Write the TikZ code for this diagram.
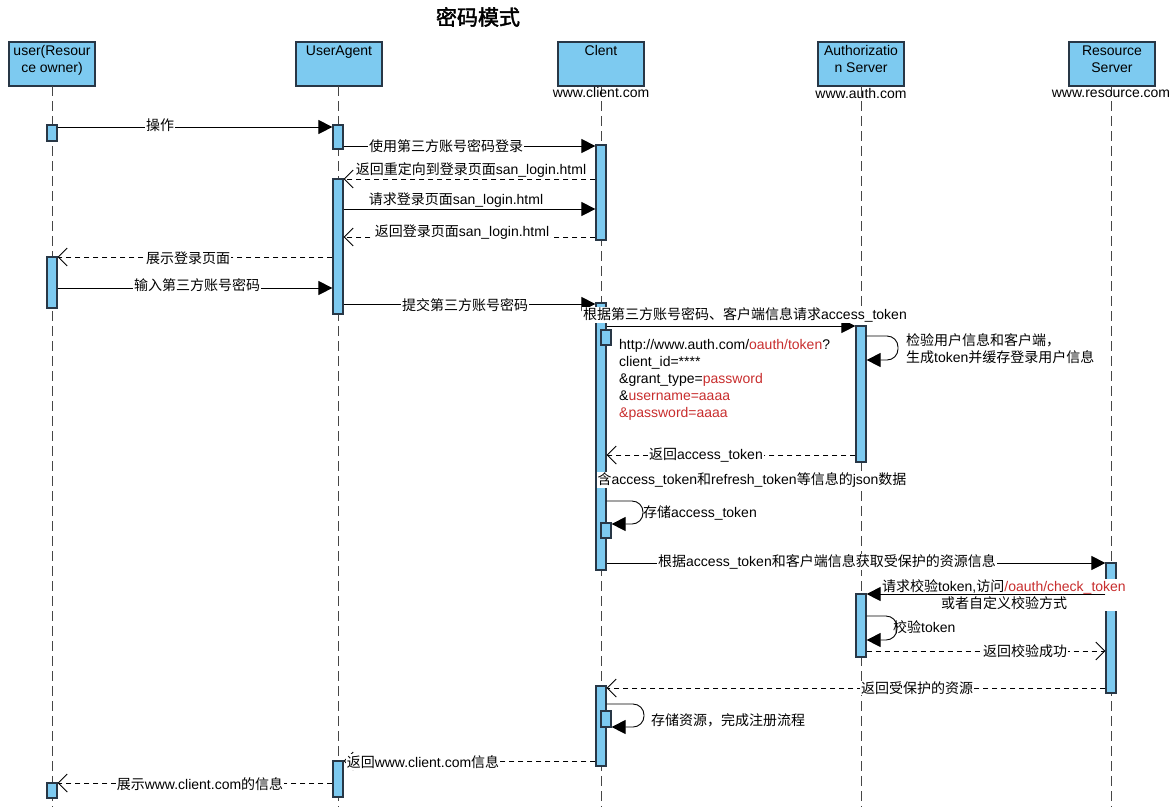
\documentclass[tikz,border=0pt]{standalone}
\usepackage{fontspec}
\setmainfont{Liberation Sans}
\newfontfamily\cjk[AutoFakeBold=2]{Noto Sans CJK SC}
\newcommand\zh[1]{{\cjk #1}}
\usetikzlibrary{arrows.meta}
\definecolor{barfill}{RGB}{125,202,240}
\definecolor{barline}{RGB}{40,55,70}
\definecolor{lifec}{RGB}{70,70,70}
\definecolor{redt}{RGB}{200,45,45}
\newcommand\rd[1]{\textcolor{redt}{#1}}
\tikzset{
  life/.style={draw=lifec, line width=1pt, dash pattern=on 10pt off 5pt},
  head/.style={draw=barline, fill=barfill, line width=1.2pt, minimum width=86pt, minimum height=44pt, inner sep=0pt},
  htext/.style={anchor=north, align=center, inner sep=1pt, yshift=-3pt, font=\fontsize{14}{17}\selectfont},
  bar/.style={draw=barline, fill=barfill, line width=1.2pt, minimum width=10pt, inner sep=0pt},
  msg/.style={draw=black, line width=0.9pt, -{Triangle[length=14pt,width=14pt]}},
  ret/.style={draw=black, line width=0.9pt, dash pattern=on 5pt off 4pt, -{Straight Barb[length=9pt,width=18pt]}},
  lab/.style={fill=white, inner sep=1pt, font=\fontsize{14}{17}\selectfont},
  txt/.style={inner sep=0pt, font=\fontsize{14}{17}\selectfont}
}
\begin{document}
\begin{tikzpicture}[x=1pt,y=-1pt]
\useasboundingbox (0,0) rectangle (1173,807);
% title
\node[inner sep=0pt] (title) at (478,17) {\cjk\bfseries\fontsize{21}{24}\selectfont 密码模式};
% headers
\node[head] (hu) at (52,64) {};
\node[head] (ha) at (339,64) {};
\node[head] (hc) at (601,64) {};
\node[head] (hs) at (861,64) {};
\node[head] (hr) at (1112,64) {};
\node[htext] (hut) at (hu.north) {user(Resour\\ce owner)};
\node[htext] (hat) at (ha.north) {UserAgent};
\node[htext] (hct) at (hc.north) {Clent};
\node[htext] (hst) at (hs.north) {Authorizatio\\n Server};
\node[htext] (hrt) at (hr.north) {Resource\\Server};
% lifelines
\draw[life] (52,86) -- (52,807);
\draw[life] (338,86) -- (338,807);
\draw[life] (601,86) -- (601,807);
\draw[life] (861,86) -- (861,807);
\draw[life] (1111,86) -- (1111,807);
\node[txt] (dc) at (601,92) {www.client.com};
\node[txt] (ds) at (861,93) {www.auth.com};
\node[txt] (dr) at (1111,94) {www.resource.com};
% activation bars
\node[bar, minimum height=16pt] (u1) at (52,133) {};
\node[bar, minimum height=51pt] (u2) at (52,282.5) {};
\node[bar, minimum height=15pt] (u3) at (52,790.5) {};
\node[bar, minimum height=24pt] (a1) at (338,137) {};
\node[bar, minimum height=135pt] (a2) at (338,246.5) {};
\node[bar, minimum height=36pt] (a3) at (338,779) {};
\node[bar, minimum height=95pt] (c1) at (601,192.5) {};
\node[bar, minimum height=267pt] (c2) at (601,436.5) {};
\node[bar, minimum height=15pt] (c2s) at (606,337.5) {};
\node[bar, minimum height=15pt] (c3s) at (606,530.5) {};
\node[bar, minimum height=80pt] (c3) at (601,726) {};
\node[bar, minimum height=16pt] (c4s) at (606,719) {};
\node[bar, minimum height=136pt] (s1) at (861,394) {};
\node[bar, minimum height=63pt] (s2) at (861,625.5) {};
\node[bar, minimum height=130pt] (r1) at (1111,628) {};
% messages
\draw[msg] (u1.east |- 0,127) -- (a1.west |- 0,127);
\node[lab] (l1) at (160,125) {\zh{操作}};
\draw[msg] (a1.east |- 0,146) -- (c1.west |- 0,146);
\node[lab] (l2) at (446,146) {\zh{使用第三方账号密码登录}};
\draw[ret] (c1.west |- 0,179) -- (a2.east |- 0,179);
\node[lab] (l3) at (471,170) {\zh{返回重定向到登录页面}san\_login.html};
\draw[msg] (a2.east |- 0,209) -- (c1.west |- 0,209);
\node[txt] (l4) at (456,200) {\zh{请求登录页面}san\_login.html};
\draw[ret] (c1.west |- 0,237) -- (a2.east |- 0,237);
\node[lab] (l5) at (462,232) {\zh{返回登录页面}san\_login.html};
\draw[ret] (a2.west |- 0,257) -- (u2.east |- 0,257);
\node[lab] (l6) at (188,258) {\zh{展示登录页面}};
\draw[msg] (u2.east |- 0,288) -- (a2.west |- 0,288);
\node[lab] (l7) at (197,285) {\zh{输入第三方账号密码}};
\draw[msg] (a2.east |- 0,304) -- (c2.west |- 0,304);
\node[lab] (l8) at (465,305) {\zh{提交第三方账号密码}};
\draw[msg] (c2.east |- 0,326) -- (s1.west |- 0,326);
\node[lab] (l9) at (745,315) {\zh{根据第三方账号密码、客户端信息请求}access\_token};
% self loop auth 1
\draw[msg, rounded corners=11pt] (s1.east |- 0,336) -- (898,336) -- (898,360) -- (s1.east |- 0,360);
\node[txt, anchor=west, align=left] (l10) at (906,349) {\zh{检验用户信息和客户端，}\\\zh{生成}token\zh{并缓存登录用户信息}};
% request text block
\node[txt, anchor=north west, align=left] (req) at (619,339) {http://www.auth.com/\rd{oauth/token}?\\client\_id=****\\\&grant\_type=\rd{password}\\\&\rd{username=aaaa}\\\rd{\&password=aaaa}};
\draw[ret] (s1.west |- 0,455) -- (c2.east |- 0,455);
\node[lab] (l12) at (706,455) {\zh{返回}access\_token};
\node[lab] (l13) at (752,480) {\zh{含}access\_token\zh{和}refresh\_token\zh{等信息的}json\zh{数据}};
% self loop client
\draw[msg, rounded corners=11pt] (c2.east |- 0,501) -- (643,501) -- (643,524) -- (c3s.east |- 0,524);
\node[txt, anchor=west] (l14) at (643,513) {\zh{存储}access\_token};
\draw[msg] (c2.east |- 0,563) -- (r1.west |- 0,563);
\node[lab] (l15) at (827,562) {\zh{根据}access\_token\zh{和客户端信息获取受保护的资源信息}};
\node[lab, align=center] (l16) at (1004,595) {\zh{请求校验}token,\zh{访问}\rd{/oauth/check\_token}\\\zh{或者自定义校验方式}};
\draw[msg] (r1.west |- 0,594) -- (s2.east |- 0,594);
% self loop auth 2
\draw[msg, rounded corners=11pt] (s2.east |- 0,616) -- (897,616) -- (897,640) -- (s2.east |- 0,640);
\node[txt, anchor=west] (l17) at (893,627) {\zh{校验}token};
\draw[ret] (s2.east |- 0,651) -- (r1.west |- 0,651);
\node[lab] (l18) at (1025,651) {\zh{返回校验成功}};
\draw[ret] (r1.west |- 0,688) -- (c3.east |- 0,688);
\node[lab] (l19) at (917,688) {\zh{返回受保护的资源}};
% self loop client 2
\draw[msg, rounded corners=11pt] (c3.east |- 0,704) -- (644,704) -- (644,727) -- (c4s.east |- 0,727);
\node[txt, anchor=west] (l20) at (651,720) {\zh{存储资源，完成注册流程}};
\draw[ret] (c3.west |- 0,761) -- (a3.east |- 0,761);
\node[lab] (l21) at (423,762) {\zh{返回}www.client.com\zh{信息}};
\draw[ret] (a3.west |- 0,783) -- (u3.east |- 0,783);
\node[lab] (l22) at (200,784) {\zh{展示}www.client.com\zh{的信息}};
\end{tikzpicture}
\end{document}
